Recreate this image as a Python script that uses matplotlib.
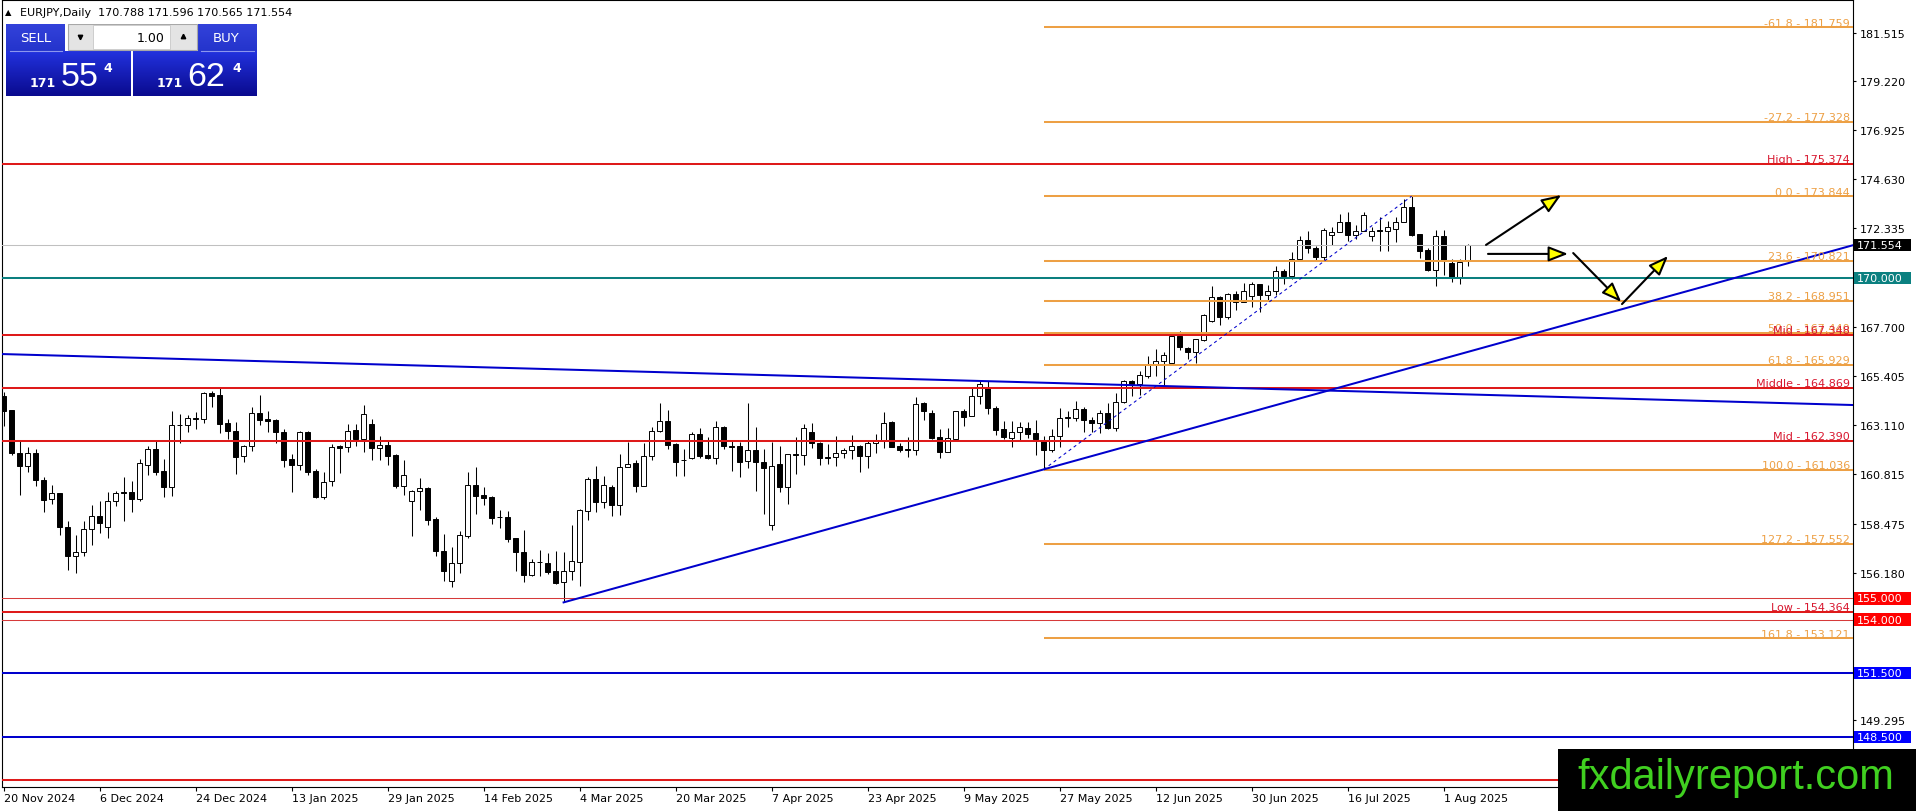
import numpy as np
import matplotlib
matplotlib.use("Agg")
import matplotlib.pyplot as plt
from matplotlib.patches import Rectangle, FancyArrowPatch
from matplotlib.transforms import blended_transform_factory

W, H = 1916, 812

# daily EURJPY bars, 20 Nov 2024 .. 6 Aug 2025 (open, high, low, close)
opens = [164.50, 163.83, 161.79, 161.22, 161.79, 160.53, 159.64, 159.92, 158.33, 157.00,
         157.16, 158.23, 158.86, 158.33, 159.55, 159.97, 159.97, 159.67, 161.26, 162.00,
         160.95, 160.20, 163.11, 163.11, 163.42, 163.39, 164.62, 164.51, 163.20, 162.83,
         161.65, 162.12, 163.67, 163.40, 163.36, 162.79, 161.51, 161.26, 162.78, 160.97,
         159.76, 160.51, 162.12, 162.11, 162.89, 162.47, 163.17, 162.03, 162.19, 161.72,
         160.28, 159.58, 160.01, 160.17, 158.72, 157.20, 155.83, 156.64, 157.94, 160.30,
         159.84, 159.75, 158.81, 158.80, 157.81, 157.17, 156.11, 156.68, 156.66, 156.27,
         155.75, 156.27, 156.72, 159.11, 160.59, 159.53, 160.23, 159.37, 161.14, 161.33,
         160.28, 161.65, 162.83, 163.30, 162.23, 161.49, 161.56, 162.69, 161.72, 161.56,
         163.01, 162.11, 162.12, 161.42, 161.95, 161.37, 158.44, 161.30, 160.23, 161.74,
         161.72, 162.81, 162.26, 161.60, 161.61, 161.81, 161.95, 162.12, 161.65, 162.28,
         162.37, 163.28, 162.12, 162.00, 161.94, 164.15, 163.68, 162.54, 161.87, 162.47,
         163.76, 163.56, 164.50, 164.89, 163.92, 162.93, 162.51, 162.78, 162.97, 162.73,
         162.39, 161.97, 162.59, 163.46, 163.47, 163.87, 163.37, 163.20, 163.67, 162.97,
         164.18, 165.20, 165.04, 165.43, 165.97, 166.14, 166.01, 167.31, 166.71, 166.53,
         167.12, 168.01, 169.14, 168.17, 169.26, 168.90, 169.18, 169.73, 169.23, 169.42,
         170.34, 170.09, 170.90, 171.79, 171.40, 170.98, 172.03, 172.18, 172.62, 172.04,
         172.23, 171.96, 172.23, 172.23, 172.31, 172.62, 173.32, 172.07, 171.32, 170.40,
         171.96, 170.70, 170.07, 170.788]
highs = [164.68, 163.83, 162.39, 162.08, 162.00, 160.67, 160.31, 159.92, 158.61, 157.97,
         158.61, 159.39, 159.55, 159.97, 160.05, 160.70, 160.48, 161.53, 162.15, 162.44,
         161.53, 163.78, 163.64, 163.59, 163.72, 164.69, 164.70, 164.84, 163.40, 163.25,
         162.19, 163.95, 164.53, 163.76, 163.40, 162.94, 161.76, 162.84, 162.84, 161.06,
         160.94, 162.23, 162.19, 163.17, 163.17, 164.06, 163.40, 162.62, 162.39, 161.76,
         161.50, 160.06, 160.65, 160.22, 158.81, 158.01, 157.39, 158.14, 160.90, 161.17,
         160.20, 159.81, 159.16, 159.08, 157.81, 158.20, 156.84, 157.28, 157.12, 157.20,
         157.16, 158.45, 159.19, 160.67, 161.22, 160.72, 160.31, 161.76, 162.34, 161.50,
         162.28, 163.01, 164.15, 163.83, 162.28, 162.00, 162.81, 162.97, 162.55, 163.30,
         163.09, 162.42, 162.34, 164.15, 163.01, 162.00, 162.31, 162.12, 161.75, 162.55,
         163.17, 163.22, 162.31, 162.23, 162.61, 162.04, 162.65, 162.18, 162.44, 162.68,
         163.72, 163.33, 162.28, 162.58, 164.42, 164.18, 163.84, 162.92, 162.97, 163.79,
         163.87, 164.84, 165.20, 165.20, 164.00, 163.33, 163.33, 163.25, 163.25, 163.36,
         162.62, 162.94, 163.90, 163.79, 164.26, 163.97, 163.48, 163.83, 164.15, 164.62,
         165.23, 165.23, 165.64, 166.37, 166.68, 166.53, 167.39, 167.54, 166.76, 167.15,
         168.32, 169.65, 169.18, 169.29, 169.42, 169.76, 169.81, 169.73, 169.70, 170.56,
         170.43, 171.21, 172.00, 172.23, 171.52, 172.34, 172.39, 173.01, 173.12, 172.49,
         173.09, 172.39, 172.85, 172.70, 172.88, 173.71, 173.844, 172.07, 171.40, 172.26,
         172.28, 170.90, 170.90, 171.596]
lows = [163.09, 161.72, 159.86, 160.94, 160.28, 159.06, 159.42, 157.98, 156.34, 156.17,
        157.00, 157.52, 158.05, 157.83, 159.34, 158.64, 159.06, 159.58, 160.80, 160.78,
        159.76, 159.81, 162.30, 162.81, 162.94, 163.22, 163.98, 162.76, 162.47, 160.83,
        161.37, 161.92, 163.12, 162.78, 162.28, 161.17, 160.00, 161.03, 160.80, 159.72,
        159.65, 160.28, 160.87, 161.84, 162.15, 161.87, 161.48, 161.48, 161.25, 160.15,
        159.86, 157.94, 159.15, 158.45, 157.00, 155.83, 155.55, 156.19, 157.81, 158.95,
        159.37, 158.48, 158.30, 157.66, 156.30, 155.78, 156.03, 156.06, 156.14, 155.67,
        154.81, 155.88, 155.56, 158.69, 159.06, 159.23, 158.87, 158.92, 161.14, 160.00,
        160.25, 161.50, 162.80, 162.00, 160.72, 160.72, 161.55, 161.56, 161.55, 161.31,
        162.00, 160.98, 160.70, 161.09, 160.05, 158.95, 158.22, 160.00, 159.42, 160.83,
        161.26, 162.03, 161.26, 161.29, 161.22, 161.56, 161.53, 160.94, 161.11, 161.79,
        162.04, 162.08, 161.87, 161.64, 161.73, 163.37, 162.47, 161.56, 161.86, 162.46,
        163.09, 163.55, 164.11, 163.64, 162.67, 162.47, 162.11, 162.39, 162.51, 161.73,
        161.036, 161.84, 162.08, 163.01, 163.29, 162.78, 162.78, 162.73, 162.93, 162.83,
        164.14, 164.50, 164.54, 165.31, 165.43, 164.97, 166.01, 166.65, 166.22, 166.01,
        167.04, 167.93, 167.82, 168.09, 168.53, 168.87, 168.64, 168.40, 168.98, 169.21,
        169.75, 169.96, 170.85, 171.18, 170.87, 170.82, 171.56, 172.15, 171.76, 171.84,
        172.20, 171.76, 171.29, 171.29, 171.68, 172.62, 171.99, 170.93, 170.35, 169.65,
        170.15, 169.84, 169.73, 170.565]
closes = [163.79, 161.79, 161.19, 161.79, 160.53, 159.62, 159.92, 158.36, 157.00, 157.16,
          158.23, 158.84, 158.51, 159.55, 159.94, 159.93, 159.67, 161.33, 162.00, 160.94,
          160.20, 163.11, 163.12, 163.43, 163.41, 164.61, 164.50, 163.19, 162.83, 161.64,
          162.12, 163.67, 163.37, 163.33, 162.81, 161.50, 161.26, 162.78, 160.94, 159.76,
          160.47, 162.08, 162.06, 162.86, 162.47, 163.64, 162.06, 162.19, 161.69, 160.28,
          160.76, 160.03, 160.15, 158.69, 157.23, 156.30, 156.66, 157.97, 160.30, 159.81,
          159.72, 158.78, 158.80, 157.78, 157.16, 156.11, 156.69, 156.68, 156.25, 155.72,
          156.27, 156.73, 159.12, 160.59, 159.53, 160.33, 159.37, 161.14, 161.31, 160.28,
          161.65, 162.83, 163.29, 162.20, 161.40, 161.48, 162.69, 161.69, 161.56, 163.01,
          162.15, 162.10, 161.40, 161.95, 161.37, 161.09, 161.22, 160.23, 161.75, 161.73,
          162.97, 162.26, 161.56, 161.59, 161.80, 161.94, 162.12, 161.65, 162.28, 162.39,
          163.22, 162.11, 161.97, 161.94, 164.11, 163.76, 162.51, 161.87, 162.51, 163.76,
          163.48, 164.50, 165.04, 163.90, 162.90, 162.54, 162.78, 163.01, 162.70, 162.47,
          161.97, 162.59, 163.43, 163.47, 163.87, 163.37, 163.20, 163.67, 162.97, 164.18,
          165.20, 165.04, 165.45, 165.97, 166.14, 166.40, 167.31, 166.76, 166.53, 167.15,
          168.28, 169.11, 168.17, 169.26, 168.90, 169.42, 169.73, 169.23, 169.39, 170.32,
          170.09, 170.90, 171.79, 171.40, 170.98, 172.26, 172.18, 172.62, 172.04, 172.23,
          172.96, 172.23, 172.22, 172.39, 172.62, 173.32, 172.03, 171.29, 170.40, 171.96,
          170.82, 170.04, 170.74, 171.554]

date_labels = ["20 Nov 2024", "6 Dec 2024", "24 Dec 2024", "13 Jan 2025", "29 Jan 2025",
               "14 Feb 2025", "4 Mar 2025", "20 Mar 2025", "7 Apr 2025", "23 Apr 2025",
               "9 May 2025", "27 May 2025", "12 Jun 2025", "30 Jun 2025", "16 Jul 2025",
               "1 Aug 2025"]
price_ticks = [181.515, 179.220, 176.925, 174.630, 172.335, 167.700, 165.405,
               163.110, 160.815, 158.475, 156.180, 149.295]

fib_levels = [-61.8, -27.2, 0.0, 23.6, 38.2, 50.0, 61.8, 100.0, 127.2, 161.8]
fib_prices = [181.759, 177.328, 173.844, 170.821, 168.951, 167.440, 165.929,
              161.036, 157.552, 153.121]
fib_start_bar = 130
fib_end_bar = 176

channel_names = ["High", "Mid", "Middle", "Mid", "Low"]
channel_prices = [175.374, 167.348, 164.869, 162.390, 154.364]

box_prices = [171.554, 170.000, 155.000, 154.000, 151.500, 148.500]
box_colors = ["black", "#0B8080", "#FF0000", "#FF0000", "#0000FF", "#0000FF"]
bottom_red = 146.50

# trend lines (bar index, price)
desc_x, desc_y = [-0.45, 231.05], [166.45, 164.06]
asc_x, asc_y = [70, 231.2], [154.81, 171.55]

# forecast arrows
arrow_from = [(185.3, 171.56), (185.55, 171.14), (196.2, 171.18), (202.3, 168.79)]
arrow_to = [(194.7, 173.90), (195.55, 171.14), (202.2, 168.89), (208.05, 171.04)]

ORANGE = "#EDA045"
RED = "#DE1A1A"
RED_TXT = "#D8172F"
BLUE = "#0000CC"

plt.rcParams["font.family"] = "DejaVu Sans"
plt.rcParams["font.size"] = 8

fig = plt.figure(figsize=(W / 100, H / 100), dpi=100)
fig.patch.set_facecolor("white")

# plot area in pixels: x 2..1853, y 1..788
ax = fig.add_axes([2 / W, (H - 788) / H, 1851 / W, 787 / H])
x_right = 231.175
ax.set_xlim(-0.2, x_right)
ax.set_ylim(146.159, 183.038)

n = len(opens)
idx = np.arange(n)
o = np.array(opens); c = np.array(closes)
hi = np.array(highs); lo = np.array(lows)

# candles
ax.vlines(idx, lo, hi, color="black", lw=0.75, zorder=2)
bull = c >= o
bottoms = np.minimum(o, c)
heights = np.maximum(np.abs(c - o), 0.02)
ax.bar(idx, heights, bottom=bottoms, width=0.6,
       color=np.where(bull, "white", "black"), edgecolor="black", lw=0.7, zorder=2.2)

# horizontal levels
ax.axhline(171.554, color="#C0C0C0", lw=0.75, zorder=3)
for p, col in zip(box_prices[1:], box_colors[1:]):
    if col == "#FF0000":
        ax.axhline(p, color="#D63A3A", lw=0.75, zorder=3)
    elif col == "#0000FF":
        ax.axhline(p, color=BLUE, lw=1.45, zorder=3)
    else:
        ax.axhline(p, color="#0B7F7F", lw=1.45, zorder=3)
ax.axhline(bottom_red, color=RED, lw=1.45, zorder=3)

for p in channel_prices:
    ax.axhline(p, color=RED, lw=1.45, zorder=3.2)
ax.hlines(fib_prices, fib_start_bar, x_right, color=ORANGE, lw=1.45, zorder=3.4)

# trend lines
ax.plot(desc_x, desc_y, color=BLUE, lw=1.45, zorder=3.5)
ax.plot(asc_x, asc_y, color=BLUE, lw=1.45, zorder=3.5)
ax.plot([fib_start_bar, fib_end_bar], [fib_prices[7], fib_prices[2]],
        color=BLUE, lw=0.75, ls=(0, (3, 3)), zorder=3.5)

# level labels
bt = blended_transform_factory(ax.transAxes, ax.transData)
for lv, p in zip(fib_levels, fib_prices):
    ax.annotate(f"{lv:.1f} - {p:.3f}", xy=(1, p), xycoords=bt, xytext=(-2.2, 1.2),
                textcoords="offset points", ha="right", va="baseline",
                color=ORANGE, fontsize=8, zorder=4)
for name, p in zip(channel_names, channel_prices):
    ax.annotate(f"{name} - {p:.3f}", xy=(1, p), xycoords=bt, xytext=(-2.2, 1.2),
                textcoords="offset points", ha="right", va="baseline",
                color=RED_TXT, fontsize=8, zorder=4)

# arrows
for a, b in zip(arrow_from, arrow_to):
    ax.add_patch(FancyArrowPatch(a, b, arrowstyle="-|>,head_length=0.85,head_width=0.33",
                                 mutation_scale=14, fc="#FFFF00", ec="black", lw=1.5,
                                 shrinkA=0, shrinkB=0, zorder=7, clip_on=False))

# axes look
for s in ax.spines.values():
    s.set_color("black")
    s.set_linewidth(0.8)
ax.yaxis.tick_right()
ax.set_yticks(price_ticks)
ax.set_yticklabels([f"{t:.3f}" for t in price_ticks])
ax.tick_params(axis="y", length=2.2, width=0.8, pad=2.8, labelsize=8)
ax.set_xticks(np.arange(0, 12 * len(date_labels), 12))
ax.set_xticklabels(date_labels, ha="left")
ax.tick_params(axis="x", length=2.9, width=0.8, pad=1.5, labelsize=8)

# coloured price boxes on the scale
for p, col in zip(box_prices, box_colors):
    ax.add_patch(Rectangle((1.0005, p - 0.29), 57 / 1851, 0.58, transform=bt,
                           facecolor=col, edgecolor="none", clip_on=False, zorder=6))
    ax.text(1.0 + 4 / 1851, p, f"{p:.3f}", transform=bt, color="white",
            fontsize=8, va="center", ha="left", zorder=6.5, clip_on=False)

# header line
fig.text(5 / W, 1 - 13 / H, "\u25b2", fontsize=6, va="center", ha="left")
fig.text(20 / W, 1 - 13 / H, "EURJPY,Daily  170.788 171.596 170.565 171.554",
         fontsize=8, va="center", ha="left")

# one-click trading panel (pixel coordinates)
pnl = fig.add_axes([6 / W, (H - 97) / H, 251 / W, 72 / H], zorder=10)
pnl.axis("off")


def grad_box(x0, y0, x1, y1, top, bottom):
    t = np.linspace(0, 1, 64)[:, None, None]
    c0 = np.array(matplotlib.colors.to_rgb(top))
    c1 = np.array(matplotlib.colors.to_rgb(bottom))
    img = c0 * (1 - t) + c1 * t
    pnl.imshow(img, extent=(x0, x1, y1, y0), aspect="auto", origin="upper",
               interpolation="bilinear")


grad_box(6, 25, 65, 52, "#3342DA", "#2434CC")
grad_box(198, 25, 257, 52, "#3342DA", "#2434CC")
grad_box(6, 52, 131, 97, "#2232DE", "#0A0A8E")
grad_box(133, 52, 257, 97, "#2232DE", "#0A0A8E")
pnl.plot([10, 62], [52, 52], color="#8C96EE", lw=0.8)
pnl.plot([201, 254], [52, 52], color="#8C96EE", lw=0.8)
pnl.add_patch(Rectangle((68, 25), 129, 26, facecolor="#E4E4E4", edgecolor="#A8A8A8", lw=0.8))
pnl.add_patch(Rectangle((93, 26), 77, 24, facecolor="white", edgecolor="#C8C8C8", lw=0.6))
pnl.plot([80], [38], marker="v", ms=3.2, color="black")
pnl.plot([183], [37], marker="^", ms=3.2, color="black")
pnl.set_xlim(6, 257)
pnl.set_ylim(97, 25)
pnl.text(20, 38, "SELL", color="white", fontsize=9.5, va="center", ha="left")
pnl.text(213, 38, "BUY", color="white", fontsize=9.5, va="center", ha="left")
pnl.text(165, 38, "1.00", color="black", fontsize=9, va="center", ha="right")
for xs, big, xb, xsup in [(30, "55", 61, 103), (157, "62", 187, 232)]:
    pnl.text(xs, 87, "171", color="white", fontsize=9, fontweight="bold", va="baseline")
    pnl.text(xb, 86, big, color="white", fontsize=24.5, family="Liberation Sans",
             va="baseline")
    pnl.text(xsup, 72, "4", color="white", fontsize=9, fontweight="bold", va="baseline")

# watermark
fig.add_artist(Rectangle((1558 / W, 0), (W - 1558) / W, 62 / H, transform=fig.transFigure,
                         facecolor="black", edgecolor="none", zorder=20))
fig.text(1736 / W, 1 - 778 / H, "fxdailyreport.com", color="#40D020", fontsize=30,
         family="Liberation Sans", ha="center", va="center", zorder=21)

fig.savefig("out.png", dpi=100)
